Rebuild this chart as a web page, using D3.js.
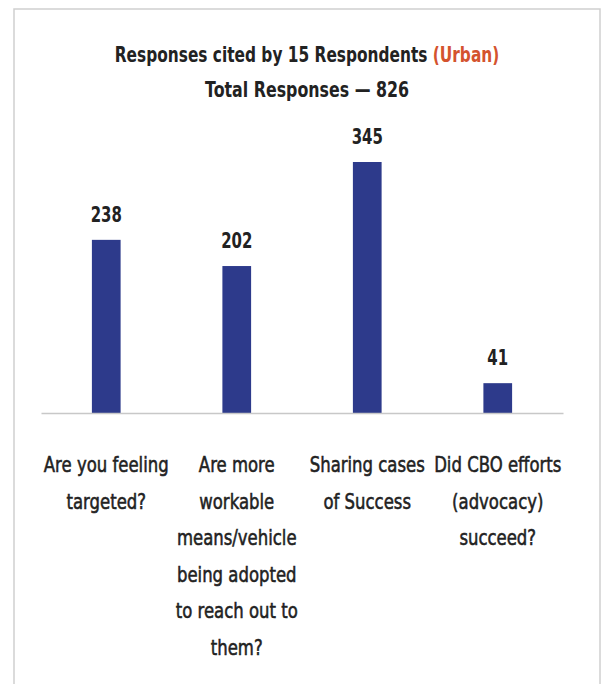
<!DOCTYPE html>
<html>
<head>
<meta charset="utf-8">
<script src="https://cdn.jsdelivr.net/npm/d3@7/dist/d3.min.js"></script>
<style>
  html, body { margin: 0; padding: 0; background: #fff; }
  svg { display: block; }
  text { font-family: "DejaVu Sans", sans-serif; fill: #222; }
</style>
</head>
<body>
<svg id="chart" width="605" height="684"></svg>
<script>
// Survey question categories (each entry holds the wrapped lines of its label)
const categories = [
  ["Are you feeling", "targeted?"],
  ["Are more", "workable", "means/vehicle", "being adopted", "to reach out to", "them?"],
  ["Sharing cases", "of Success"],
  ["Did CBO efforts", "(advocacy)", "succeed?"]
];
const categoryKeys = ["targeted", "workable", "success", "cbo"];
const responses = [238, 202, 345, 41];

const titleMain = "Responses cited by 15 Respondents";
const titleTag = "(Urban)";
const subtitle = "Total Responses  \u2014 826";

const svg = d3.select("#chart");

// outer frame
svg.append("rect")
  .attr("x", 14).attr("y", 9)
  .attr("width", 586).attr("height", 700)
  .attr("fill", "none")
  .attr("stroke", "#cfcfcf")
  .attr("stroke-width", 1.5);

const plot = { left: 41, right: 563, top: 162, bottom: 413 };

const x = d3.scaleBand()
  .domain(categoryKeys)
  .range([plot.left, plot.right])
  .paddingInner(0.78)
  .paddingOuter(0.39);

const y = d3.scaleLinear()
  .domain([0, d3.max(responses)])
  .range([plot.bottom, plot.top]);

const cx = i => x(categoryKeys[i]) + x.bandwidth() / 2;

// condensed lettering: text is squeezed horizontally around its anchor point
const narrow = (sel, px, py, sx) => sel.append("g")
  .attr("transform", `translate(${px},${py}) scale(${sx},1)`);

// bars
svg.append("g").selectAll("rect")
  .data(responses)
  .join("rect")
  .attr("x", (d, i) => x(categoryKeys[i]))
  .attr("y", d => y(d))
  .attr("width", x.bandwidth())
  .attr("height", d => y(0) - y(d))
  .attr("fill", "#2d3a8b");

// value labels
const valG = svg.append("g");
responses.forEach((d, i) => {
  narrow(valG, cx(i), y(d) - 18, 0.68)
    .append("text")
    .attr("text-anchor", "middle")
    .attr("font-size", 22)
    .attr("font-weight", "bold")
    .text(d);
});

// baseline axis
const xAxis = d3.axisBottom(x).tickSize(0).tickFormat("");
const axisG = svg.append("g")
  .attr("transform", `translate(0,${plot.bottom})`)
  .call(xAxis);
axisG.select(".domain").attr("stroke", "#c8c8c8").attr("stroke-width", 1.5);

// category labels
const catG = svg.append("g");
categories.forEach((lines, i) => {
  const t = narrow(catG, cx(i), 472, 0.75)
    .append("text")
    .attr("text-anchor", "middle")
    .attr("font-size", 22)
    .attr("stroke", "#222")
    .attr("stroke-width", 0.6);
  lines.forEach((ln, j) => {
    t.append("tspan")
      .attr("x", 0)
      .attr("y", j * 36.6)
      .text(ln);
  });
});

// title
const title = narrow(svg, 307, 62, 0.70)
  .append("text")
  .attr("text-anchor", "middle")
  .attr("font-size", 22)
  .attr("font-weight", "bold");
title.append("tspan").text(titleMain + "  ");
title.append("tspan").style("fill", "#d4532e").text(titleTag);

narrow(svg, 307, 97, 0.72)
  .append("text")
  .attr("text-anchor", "middle")
  .attr("font-size", 22)
  .attr("font-weight", "bold")
  .text(subtitle);
</script>
</body>
</html>
